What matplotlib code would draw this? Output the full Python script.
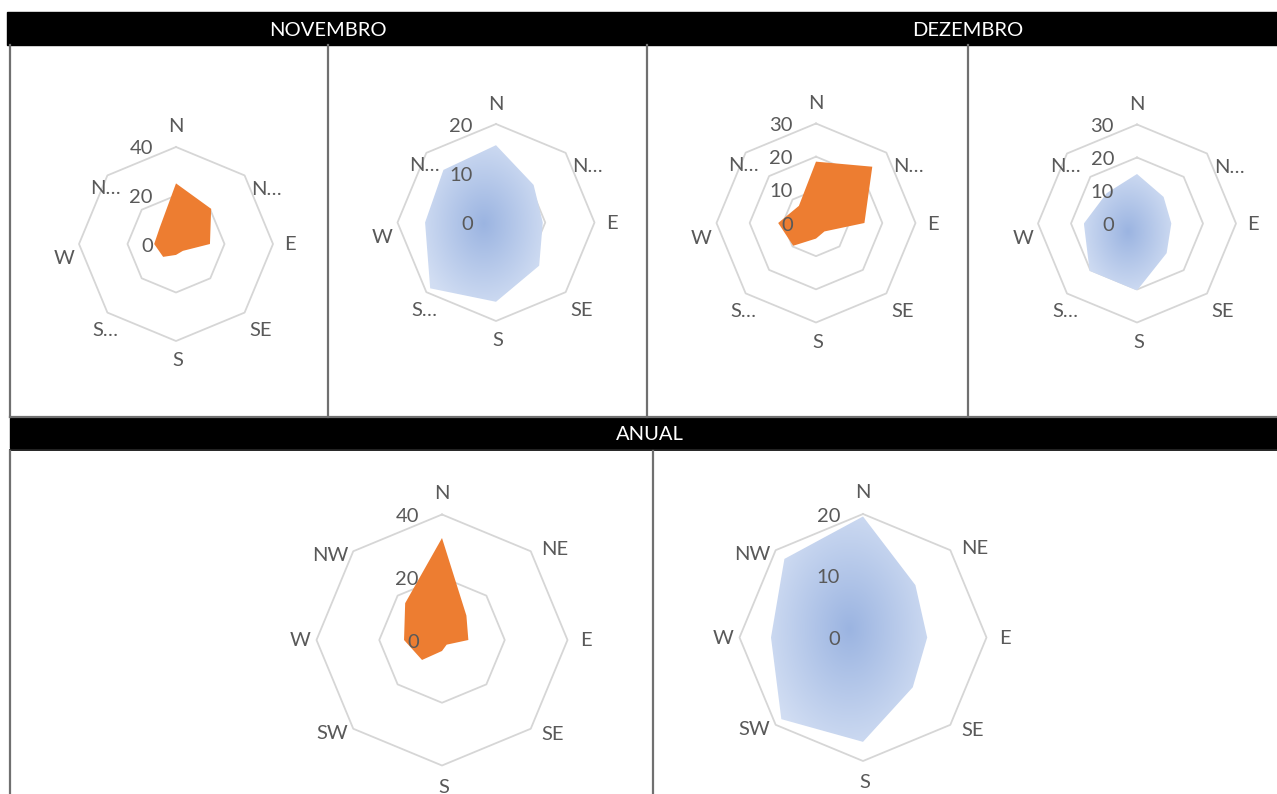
import numpy as np
import matplotlib
matplotlib.use('Agg')
import matplotlib.pyplot as plt
from matplotlib.patches import Polygon, Rectangle

plt.rcParams['font.family'] = ['Lato', 'DejaVu Sans']

# wind directions (clockwise from north)
directions = ['N', 'NE', 'E', 'SE', 'S', 'SW', 'W', 'NW']
labels_short = ['N', 'N…', 'E', 'SE', 'S', 'S…', 'W', 'N…']

# frequency (%) - orange charts
nov_freq = [25, 20.5, 14, 4, 4.5, 7.5, 9, 9.5]
dez_freq = [18.5, 24, 14.6, 3.6, 4.7, 9.7, 11.4, 7.3]
anual_freq = [32.5, 11, 8.4, 2.1, 3.5, 9, 12.1, 16.6]

# speed - blue charts
nov_speed = [15.7, 10.8, 9.5, 12.4, 16.1, 18.9, 14.4, 15.1]
dez_speed = [15, 11.4, 10.4, 12.7, 20.3, 20.3, 16.1, 13]
anual_speed = [19.6, 12, 10.4, 11.4, 16.9, 18.7, 14.9, 18]

ticks_40 = [0, 20, 40]
ticks_30 = [0, 10, 20, 30]
ticks_20 = [0, 10, 20]

W, H = 1277, 794
GRAY_TXT = '#595959'
ORANGE = '#ED7D31'
FS = 14.5

fig = plt.figure(figsize=(W / 100, H / 100), dpi=100)

# background layout (headers + panel borders), pixel coords
bg = fig.add_axes([0, 0, 1, 1])
bg.set_xlim(0, W)
bg.set_ylim(H, 0)
bg.axis('off')
bg.add_patch(Rectangle((7, 12), W - 7, 33, color='black'))
bg.add_patch(Rectangle((10, 418), W - 10, 30, color='black'))
bg.plot([10, W], [417, 417], color='#707070', lw=1.6)
bg.plot([10, W], [450, 450], color='black', lw=1.2)
for x in [10, 328, 647, 968]:
    bg.plot([x, x], [45, 417], color='#707070', lw=1.6)
for x in [10, 653]:
    bg.plot([x, x], [451, H], color='#707070', lw=1.6)
hdr = dict(color='white', fontsize=14.5, ha='center', va='center')
bg.text(328, 30, 'NOVEMBRO', **hdr)
bg.text(968, 30, 'DEZEMBRO', **hdr)
bg.text(650, 435, 'ANUAL', **hdr)

# label offsets (pixels) from the outer vertex of each axis
offs_top = [(0, 20), (22, -14), (17, -1), (16, -18), (2, -20), (-2, -18), (-15, -15), (-2, -13)]
offs_bot = [(0, 21), (24, 2), (18, -1), (22, -6), (2, -22), (-21, -5), (-16, -1), (-23, -4)]


def radar(cx, cy, R, rmax, ticks, vals, labels, offs, kind):
    S = 170
    ax = fig.add_axes([(cx - S) / W, 1 - (cy + S) / H, 2 * S / W, 2 * S / H])
    lim = rmax * S / R
    ax.set_xlim(-lim, lim)
    ax.set_ylim(-lim, lim)
    ax.axis('off')
    ang = np.deg2rad(np.arange(len(vals)) * 360 / len(vals))
    for t in ticks[1:]:
        gx = np.append(t * np.sin(ang), 0)
        gy = np.append(t * np.cos(ang), t)
        ax.plot(gx, gy, color='#D6D6D6', lw=1.3, zorder=1)
    v = np.array(vals)
    px, py = v * np.sin(ang), v * np.cos(ang)
    if kind == 'freq':
        ax.fill(px, py, color=ORANGE, lw=0, zorder=2)
    else:
        poly = Polygon(np.column_stack([px, py]), closed=True, fc='none', ec='none')
        ax.add_patch(poly)
        x0, x1, y0, y1 = px.min(), px.max(), py.min(), py.max()
        mx, my = (x0 + x1) / 2, (y0 + y1) / 2
        gx, gy = np.meshgrid(np.linspace(x0, x1, 300), np.linspace(y0, y1, 300))
        d = np.hypot((gx - mx) / ((x1 - x0) / 2), (gy - my) / ((y1 - y0) / 2))
        d = np.clip(d / 1.15, 0, 1)[..., None]
        c0 = np.array([155, 180, 225]) / 255
        c1 = np.array([210, 222, 243]) / 255
        img = c0 + (c1 - c0) * d
        im = ax.imshow(img, extent=(x0, x1, y0, y1), origin='lower', zorder=2,
                       interpolation='bilinear')
        im.set_clip_path(poly)
    for t in ticks:
        ax.annotate(str(t), xy=(0, t), xytext=(-23, -2), textcoords='offset pixels',
                    ha='right', va='center', color=GRAY_TXT, fontsize=FS, zorder=5)
    for lab, a, (dx, dy) in zip(labels, ang, offs):
        ax.annotate(lab, xy=(rmax * np.sin(a), rmax * np.cos(a)), xytext=(dx, dy),
                    textcoords='offset pixels', ha='center', va='center',
                    color=GRAY_TXT, fontsize=FS, zorder=5)
    ax.set_aspect('auto')


radar(176, 244, 97, 40, ticks_40, nov_freq, labels_short, offs_top, 'freq')
radar(496, 222.5, 98.5, 20, ticks_20, nov_speed, labels_short, offs_top, 'speed')
radar(816, 223, 99.5, 30, ticks_30, dez_freq, labels_short, offs_top, 'freq')
radar(1137, 223.5, 99, 30, ticks_30, dez_speed, labels_short, offs_top, 'speed')
radar(442, 640, 125.5, 40, ticks_40, anual_freq, directions, offs_bot, 'freq')
radar(863, 637.5, 123.5, 20, ticks_20, anual_speed, directions, offs_bot, 'speed')

fig.savefig('out.png', dpi=100)
